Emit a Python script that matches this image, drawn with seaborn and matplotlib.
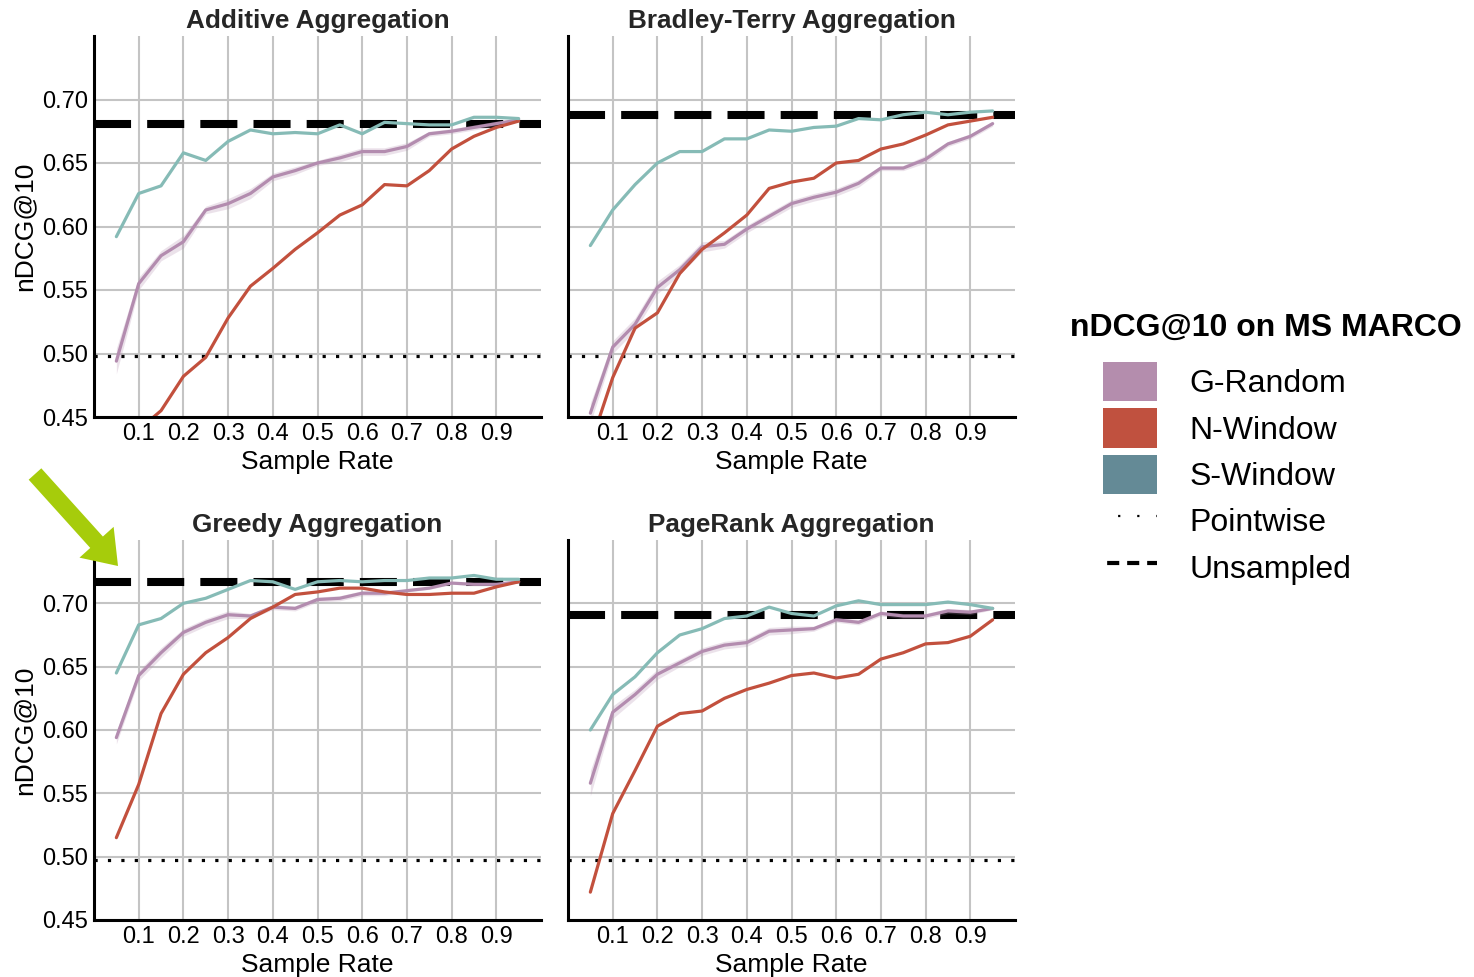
import numpy as np
import pandas as pd
import matplotlib
matplotlib.use("Agg")
import matplotlib.pyplot as plt
import seaborn as sns
from matplotlib.patches import Patch, FancyArrow
from matplotlib.lines import Line2D
from matplotlib.transforms import IdentityTransform

# ---------------------------------------------------------------- data
sample_rates = [0.05, 0.10, 0.15, 0.20, 0.25, 0.30, 0.35, 0.40, 0.45, 0.50,
                0.55, 0.60, 0.65, 0.70, 0.75, 0.80, 0.85, 0.90, 0.95]

panels = ["Additive Aggregation", "Bradley-Terry Aggregation",
          "Greedy Aggregation", "PageRank Aggregation"]
methods = ["G-Random", "N-Window", "S-Window"]

# Additive
additive_g_random = [0.494, 0.555, 0.577, 0.588, 0.613, 0.618, 0.626, 0.639, 0.644, 0.650,
                     0.654, 0.659, 0.659, 0.663, 0.673, 0.675, 0.678, 0.681, 0.684]
additive_n_window = [0.415, 0.440, 0.455, 0.482, 0.497, 0.528, 0.553, 0.567, 0.582, 0.595,
                     0.609, 0.617, 0.633, 0.632, 0.644, 0.661, 0.671, 0.678, 0.683]
additive_s_window = [0.592, 0.626, 0.632, 0.658, 0.652, 0.667, 0.676, 0.673, 0.674, 0.673,
                     0.680, 0.673, 0.682, 0.681, 0.680, 0.680, 0.686, 0.686, 0.685]
additive_g_spread = [0.010, 0.005, 0.004, 0.005, 0.003, 0.004, 0.004, 0.003, 0.003, 0.002,
                     0.003, 0.003, 0.003, 0.003, 0.002, 0.002, 0.002, 0.002, 0.001]

# Bradley-Terry
bt_g_random = [0.453, 0.505, 0.523, 0.552, 0.566, 0.584, 0.586, 0.598, 0.608, 0.618,
               0.623, 0.627, 0.634, 0.646, 0.646, 0.653, 0.665, 0.671, 0.681]
bt_n_window = [0.428, 0.481, 0.520, 0.532, 0.563, 0.582, 0.595, 0.609, 0.630, 0.635,
               0.638, 0.650, 0.652, 0.661, 0.665, 0.672, 0.680, 0.683, 0.686]
bt_s_window = [0.585, 0.613, 0.633, 0.650, 0.659, 0.659, 0.669, 0.669, 0.676, 0.675,
               0.678, 0.679, 0.685, 0.684, 0.688, 0.690, 0.688, 0.690, 0.691]
bt_g_spread = [0.008, 0.005, 0.005, 0.005, 0.004, 0.004, 0.003, 0.003, 0.003, 0.003,
               0.003, 0.003, 0.003, 0.002, 0.002, 0.003, 0.002, 0.002, 0.002]

# Greedy
greedy_g_random = [0.594, 0.643, 0.661, 0.677, 0.685, 0.691, 0.690, 0.697, 0.696, 0.703,
                   0.704, 0.708, 0.708, 0.710, 0.712, 0.716, 0.715, 0.715, 0.717]
greedy_n_window = [0.515, 0.557, 0.613, 0.644, 0.661, 0.673, 0.688, 0.697, 0.707, 0.709,
                   0.712, 0.712, 0.709, 0.707, 0.707, 0.708, 0.708, 0.713, 0.717]
greedy_s_window = [0.645, 0.683, 0.688, 0.700, 0.704, 0.711, 0.718, 0.717, 0.711, 0.717,
                   0.718, 0.717, 0.718, 0.718, 0.720, 0.720, 0.722, 0.719, 0.719]
greedy_g_spread = [0.005, 0.004, 0.004, 0.003, 0.003, 0.003, 0.002, 0.002, 0.002, 0.002,
                   0.002, 0.002, 0.002, 0.001, 0.001, 0.001, 0.001, 0.001, 0.001]

# PageRank
pagerank_g_random = [0.558, 0.614, 0.628, 0.644, 0.653, 0.662, 0.667, 0.669, 0.678, 0.679,
                     0.680, 0.687, 0.685, 0.692, 0.690, 0.690, 0.694, 0.693, 0.696]
pagerank_n_window = [0.472, 0.534, 0.568, 0.603, 0.613, 0.615, 0.625, 0.632, 0.637, 0.643,
                     0.645, 0.641, 0.644, 0.656, 0.661, 0.668, 0.669, 0.674, 0.687]
pagerank_s_window = [0.600, 0.628, 0.642, 0.661, 0.675, 0.680, 0.688, 0.690, 0.697, 0.692,
                     0.690, 0.698, 0.702, 0.699, 0.699, 0.699, 0.701, 0.699, 0.696]
pagerank_g_spread = [0.010, 0.005, 0.004, 0.004, 0.003, 0.003, 0.003, 0.003, 0.003, 0.003,
                     0.002, 0.002, 0.002, 0.002, 0.002, 0.002, 0.002, 0.002, 0.001]

# Reference scores (one per aggregation)
pointwise = [0.498, 0.498, 0.4975, 0.4975]
unsampled = [0.681, 0.688, 0.717, 0.691]

y_ticks = [0.45, 0.50, 0.55, 0.60, 0.65, 0.70]
x_ticks = [0.1, 0.2, 0.3, 0.4, 0.5, 0.6, 0.7, 0.8, 0.9]

series = {
    panels[0]: (additive_g_random, additive_n_window, additive_s_window, additive_g_spread),
    panels[1]: (bt_g_random, bt_n_window, bt_s_window, bt_g_spread),
    panels[2]: (greedy_g_random, greedy_n_window, greedy_s_window, greedy_g_spread),
    panels[3]: (pagerank_g_random, pagerank_n_window, pagerank_s_window, pagerank_g_spread),
}

rows = []
for p in panels:
    for m, vals in zip(methods, series[p][:3]):
        for r, v in zip(sample_rates, vals):
            rows.append({"panel": p, "method": m, "rate": r, "ndcg": v})
df = pd.DataFrame(rows)

# ---------------------------------------------------------------- style
sns.set_theme(style="white")
plt.rcParams["font.family"] = ["Liberation Sans", "DejaVu Sans"]

line_colors = {"G-Random": "#b38caf", "N-Window": "#c2503d", "S-Window": "#86bbb6"}
key_colors = {"G-Random": "#b48dad", "N-Window": "#c0513f", "S-Window": "#648a96"}

W, H = 1474, 977
fig = plt.figure(figsize=(W / 100, H / 100), dpi=100)

boxes = [(94, 36, 541, 417), (568, 36, 1015, 417),
         (94, 540, 541, 920), (568, 540, 1015, 920)]

for i, (p, (l, t, r, b)) in enumerate(zip(panels, boxes)):
    ax = fig.add_axes([l / W, 1 - b / H, (r - l) / W, (b - t) / H])
    ax.set_axisbelow(True)
    ax.grid(True, color="#c4c4c4", lw=1.5)

    ax.axhline(pointwise[i], color="black", lw=2.3, ls=(0, (1, 3.2)), zorder=2)
    ax.axhline(unsampled[i], color="black", lw=5.8, ls=(0, (4.6, 2.0)), zorder=2)

    g_vals = np.array(series[p][0])
    spread = np.array(series[p][3])
    ax.fill_between(sample_rates, g_vals - spread, g_vals + spread,
                    color=line_colors["G-Random"], alpha=0.25, lw=0, zorder=2)

    sub = df[df["panel"] == p]
    sns.lineplot(data=sub, x="rate", y="ndcg", hue="method", hue_order=methods,
                 palette=line_colors, errorbar=None, legend=False, lw=2.3, ax=ax)

    ax.set_xlim(0, 1)
    ax.set_ylim(0.45, 0.75)
    ax.set_xticks(x_ticks)
    ax.set_xticklabels([f"{x:.1f}" for x in x_ticks])
    ax.set_yticks(y_ticks)
    if i % 2 == 0:
        ax.set_yticklabels([f"{y:.2f}" for y in y_ticks])
        ax.set_ylabel("nDCG@10", fontsize=19, color="black", labelpad=4)
    else:
        ax.set_yticklabels([])
        ax.set_ylabel("")
    ax.set_xlabel("Sample Rate", fontsize=19, color="black", labelpad=4)
    ax.tick_params(length=0, labelsize=17, colors="black", pad=4)
    ax.set_title(p, fontsize=18.8, fontweight="bold", color="#262626", pad=6)

    for s in ("top", "right"):
        ax.spines[s].set_visible(False)
    for s in ("left", "bottom"):
        ax.spines[s].set_color("black")
        ax.spines[s].set_linewidth(2.2)

# ---------------------------------------------------------------- legend
handles = [Patch(facecolor=key_colors[m], edgecolor="none") for m in methods]
handles += [Line2D([], [], color="black", lw=1.6, ls=(1.8, (1, 7.6))),
            Line2D([], [], color="black", lw=3, ls=(3.8, (2.9, 1.9)))]
labels = methods + ["Pointwise", "Unsampled"]
fig.legend(handles, labels, loc="upper left",
           bbox_to_anchor=(1103 / W, 1 - 362 / H),
           frameon=False, fontsize=23, handlelength=1.7, handleheight=1.52,
           handletextpad=1.0, labelspacing=0.22, borderpad=0, borderaxespad=0,
           labelcolor="black")
fig.text(1070 / W, 1 - 328 / H, "nDCG@10 on MS MARCO", fontsize=23,
         fontweight="bold", ha="left", va="center", color="black")

# ---------------------------------------------------------------- highlight arrow
fig.add_artist(FancyArrow(35, H - 474, 83, -92, width=17, head_width=46,
                          head_length=32, length_includes_head=True,
                          color="#a6cc0b", lw=0, transform=IdentityTransform()))

fig.savefig("out.png", dpi=100)
